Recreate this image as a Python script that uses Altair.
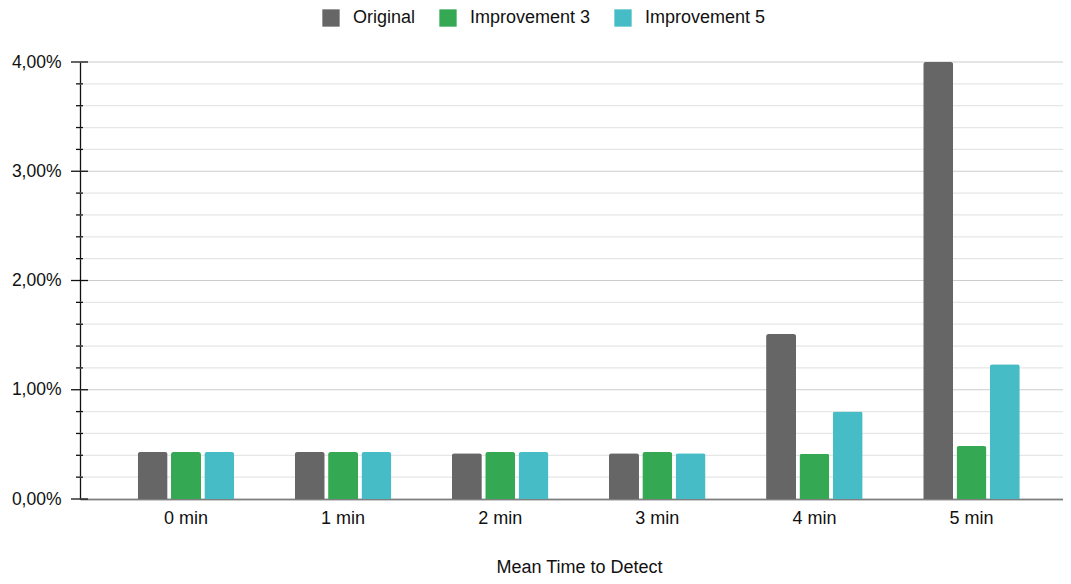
import altair as alt
import pandas as pd

categories = ["0 min", "1 min", "2 min", "3 min", "4 min", "5 min"]
series_names = ["Original", "Improvement 3", "Improvement 5"]
original = [0.0043, 0.0043, 0.00418, 0.00418, 0.0151, 0.0400]
improvement3 = [0.0043, 0.0043, 0.0043, 0.0043, 0.00415, 0.00485]
improvement5 = [0.0043, 0.0043, 0.0043, 0.00418, 0.0080, 0.01233]
colors = ["#666666", "#34a853", "#46bdc6"]

major_ticks = [0.0, 0.01, 0.02, 0.03, 0.04]
minor_ticks = [0.002, 0.004, 0.006, 0.008, 0.012, 0.014, 0.016, 0.018,
               0.022, 0.024, 0.026, 0.028, 0.032, 0.034, 0.036, 0.038]

rows = []
for name, vals in zip(series_names, [original, improvement3, improvement5]):
    for c, v in zip(categories, vals):
        rows.append({"cat": c, "series": name, "value": v})
df = pd.DataFrame(rows)

FONT = "Liberation Sans"
W, H = 983, 437
yscale = alt.Scale(domain=[0, 0.04], nice=False, zero=True)

yaxis = alt.Axis(values=major_ticks,
                 labelExpr="replace(format(datum.value, '.2%'), '.', ',')",
                 labelFontSize=17.5, labelColor="#111111", labelFont=FONT,
                 labelPadding=19, ticks=False, domainColor="#111111",
                 domainWidth=1.3, labelOverlap=False, grid=False)

major_df = pd.DataFrame({"v": major_ticks})
minor_df = pd.DataFrame({"v": minor_ticks})

minor_grid = alt.Chart(minor_df).mark_rule(color="#e6e6e6", strokeWidth=1.2).encode(
    y=alt.Y("v:Q", scale=yscale, title=None, axis=yaxis),
    x=alt.value(0), x2=alt.value(W),
)
major_grid = alt.Chart(major_df).mark_rule(color="#cccccc", strokeWidth=1.2).encode(
    y=alt.Y("v:Q", scale=yscale, title=None, axis=yaxis),
    x=alt.value(0), x2=alt.value(W),
)

bars = alt.Chart(df).mark_bar(cornerRadiusTopLeft=2.5, cornerRadiusTopRight=2.5).encode(
    x=alt.X("cat:N", sort=categories, title="Mean Time to Detect",
            scale=alt.Scale(paddingInner=0.385, paddingOuter=0.321, align=0.572),
            axis=alt.Axis(labelAngle=0, labelFontSize=18, labelColor="#111111",
                          labelFont=FONT, labelPadding=10, ticks=False,
                          domainColor="#333333", domainWidth=1.3,
                          titleFontSize=18, titleFont=FONT, titleFontWeight="normal",
                          titleColor="#111111", titlePadding=31, titleX=499,
                          grid=False)),
    xOffset=alt.XOffset("series:N", sort=series_names,
                        scale=alt.Scale(paddingInner=0.1, paddingOuter=0)),
    y=alt.Y("value:Q", scale=yscale, title=None, axis=yaxis),
    color=alt.Color("series:N", sort=series_names,
                    scale=alt.Scale(domain=series_names, range=colors),
                    legend=alt.Legend(title=None, orient="none", direction="horizontal",
                                      legendX=242, legendY=-53,
                                      symbolType="square", symbolSize=300,
                                      symbolStrokeWidth=0, labelFontSize=18,
                                      labelFont=FONT, labelColor="#111111",
                                      labelOffset=13, columnPadding=23)),
)

major_rules = alt.Chart(major_df).mark_rule(color="#111111", strokeWidth=1.3).encode(
    y=alt.Y("v:Q", scale=yscale, title=None, axis=yaxis),
    x=alt.value(-9), x2=alt.value(8),
)
minor_rules = alt.Chart(minor_df).mark_rule(color="#111111", strokeWidth=1.3).encode(
    y=alt.Y("v:Q", scale=yscale, title=None, axis=yaxis),
    x=alt.value(-4), x2=alt.value(3),
)

chart = alt.layer(minor_grid, major_grid, bars, major_rules, minor_rules).properties(
    width=W, height=H,
    autosize=alt.AutoSizeParams(type="none"),
    padding={"left": 72, "top": 54, "right": 0, "bottom": 85},
).configure(font=FONT).configure_view(strokeWidth=0, stroke=None)

chart.save("out.html", embed_options={"renderer": "svg", "actions": False})
